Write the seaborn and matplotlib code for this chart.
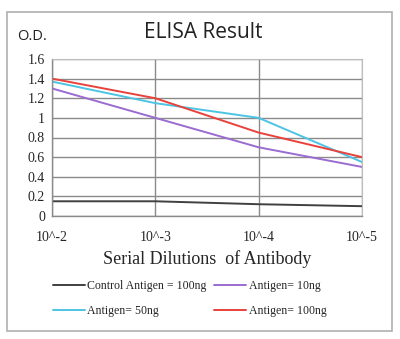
import matplotlib
matplotlib.use("Agg")
import matplotlib.pyplot as plt
import seaborn as sns
import pandas as pd
from matplotlib.patches import Rectangle

dilutions = ["10^-2", "10^-3", "10^-4", "10^-5"]
series_names = ["Control Antigen = 100ng", "Antigen= 10ng", "Antigen= 50ng", "Antigen= 100ng"]
control = [0.15, 0.15, 0.12, 0.10]
ag10 = [1.30, 1.00, 0.70, 0.50]
ag50 = [1.37, 1.15, 1.00, 0.55]
ag100 = [1.40, 1.20, 0.85, 0.60]
colors = ["#404040", "#9A6BD0", "#4CC4E4", "#E8423C"]
y_ticks = [0, 0.2, 0.4, 0.6, 0.8, 1, 1.2, 1.4, 1.6]
y_tick_labels = ["0", "0.2", "0.4", "0.6", "0.8", "1", "1.2", "1.4", "1.6"]

rows = []
for name, vals in zip(series_names, [control, ag10, ag50, ag100]):
    for i, v in enumerate(vals):
        rows.append({"x": i, "od": v, "series": name})
df = pd.DataFrame(rows)

sns.set_theme(style="white")
plt.rcParams["font.family"] = ["Liberation Serif", "DejaVu Serif"]

fig = plt.figure(figsize=(4.0, 3.39), dpi=100)
# outer frame
fig.patches.append(Rectangle((7 / 400, 1 - 331 / 339), 385 / 400, 319 / 339,
                             transform=fig.transFigure, fill=False,
                             edgecolor="#b0b0b0", linewidth=1.2))

ax = fig.add_axes([52 / 400, 1 - 216 / 339, 310 / 400, 157 / 339])
sns.lineplot(data=df, x="x", y="od", hue="series", hue_order=series_names,
             palette=colors, linewidth=1.4, ax=ax, legend=False)

ax.set_xlim(0, 3)
ax.set_ylim(0, 1.6)
ax.set_xticks(range(len(dilutions)))
ax.set_xticklabels(dilutions, fontsize=10)
ax.set_yticks(y_ticks)
ax.set_yticklabels(y_tick_labels, fontsize=10)
ax.tick_params(axis="y", length=4, color="#8a8a8a", pad=1)
ax.tick_params(axis="x", length=4, color="#8a8a8a", pad=7)
ax.grid(True, axis="both", color="#8a8a8a", linewidth=1.0)
ax.set_axisbelow(True)
for s in ["top", "right"]:
    ax.spines[s].set_color("#bdbdbd")
    ax.spines[s].set_linewidth(0.8)
for s in ["left", "bottom"]:
    ax.spines[s].set_color("#8a8a8a")
    ax.spines[s].set_linewidth(1.0)
ax.set_xlabel("Serial Dilutions  of Antibody", fontsize=13, labelpad=4)
ax.set_ylabel("")

fig.text(203 / 400, 1 - 33 / 339, "ELISA Result", ha="center", va="center",
         fontsize=15, family=["Open Sans", "DejaVu Sans"], color="#222222")
fig.text(17 / 400, 1 - 37 / 339, "O.D.", ha="left", va="center",
         fontsize=10.5, family=["Open Sans", "DejaVu Sans"], color="#222222")

# legend order (column-major): col1 = Control, 50ng ; col2 = 10ng, 100ng
order = [0, 2, 1, 3]
handles = [plt.Line2D([], [], color=colors[i], linewidth=1.4) for i in order]
labels = [series_names[i] for i in order]
leg = fig.legend(handles, labels, loc="upper left",
                 bbox_to_anchor=(42 / 400, 1 - 269 / 339), ncol=2, frameon=False,
                 fontsize=8.6, handlelength=2.7, handletextpad=0.2,
                 columnspacing=0.6, labelspacing=1.15)

fig.savefig("out.png", dpi=100)
